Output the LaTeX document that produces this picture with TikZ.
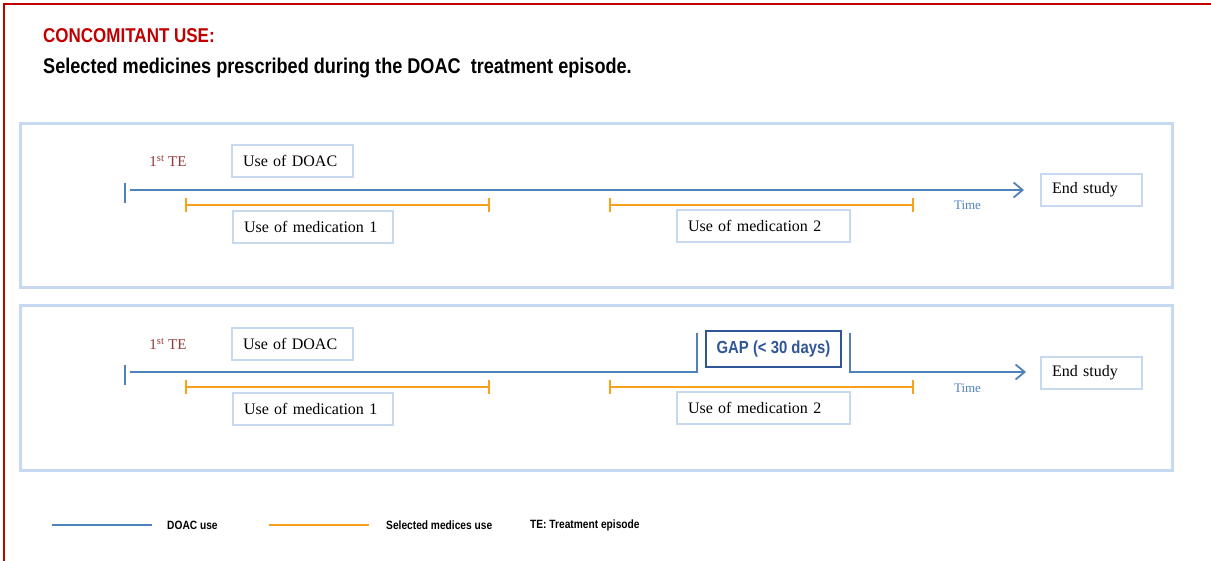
\documentclass[tikz,border=0pt]{standalone}
\usepackage{fontspec}
\setmainfont{Liberation Serif}
\newfontfamily\narrowfont[FakeStretch=0.85]{Liberation Sans}
\usetikzlibrary{arrows.meta}
\definecolor{doacblue}{HTML}{4F81BD}
\definecolor{medorange}{HTML}{F9A11B}
\definecolor{panelblue}{HTML}{C6D9F1}
\definecolor{titlered}{HTML}{C00000}
\definecolor{tered}{HTML}{953735}
\definecolor{gapblue}{HTML}{2F5597}
\begin{document}
\begin{tikzpicture}[x=1pt, y=-1pt,
    panel/.style={draw=panelblue, line width=3pt, minimum width=1152pt,
        minimum height=164pt, inner sep=0pt},
    label/.style={draw=panelblue, line width=1.6pt, fill=white,
        text width=#1, align=left, inner xsep=11pt, inner ysep=0pt,
        minimum height=32pt, font=\fontsize{16}{19}\selectfont},
    gapbox/.style={draw=gapblue, line width=1.6pt, minimum width=135pt,
        minimum height=36pt, inner sep=0pt, text=gapblue,
        font=\narrowfont\bfseries\fontsize{17.5}{20}\selectfont},
    doac/.style={draw=doacblue, line width=1.8pt},
    timearrow/.style={doac, -{Straight Barb[length=9pt, width=15pt, line width=1.8pt]}},
    medline/.style={draw=medorange, line width=1.6pt,
        {Bar[width=14pt, line width=1.6pt]}-{Bar[width=14pt, line width=1.6pt]}},
    tenote/.style={text=tered, font=\fontsize{15}{18}\selectfont},
    timenote/.style={text=doacblue, font=\fontsize{13}{16}\selectfont},
    legendtext/.style={anchor=west, inner sep=0pt,
        font=\narrowfont\bfseries\fontsize{12}{14}\selectfont}
]
    \useasboundingbox (0,0) rectangle (1211,561);
    % frame
    \draw[titlered, line width=1.5pt] (1211,4) -- (4,4) -- (4,561);
    \node[anchor=base west, inner sep=0pt, text=titlered,
        font=\narrowfont\bfseries\fontsize{20}{24}\selectfont] (title) at (43,43) {CONCOMITANT USE:};
    \node[anchor=base west, inner sep=0pt,
        font=\narrowfont\bfseries\fontsize{21.3}{25}\selectfont] (subtitle) at (43,74)
        {Selected medicines prescribed during the DOAC\ \ treatment episode.};

    % upper panel
    \node[panel] (panelA) at (596,206) {};
    \coordinate (tickA1) at (125,183);
    \coordinate (tickA2) at (125,203);
    \coordinate (startA) at (130,190);
    \coordinate (endA) at (1024,190);
    \draw[doac] (tickA1) -- (tickA2);
    \draw[timearrow] (startA) -- (endA);
    \coordinate (medA1s) at (185,205);
    \coordinate (medA1e) at (490,205);
    \coordinate (medA2s) at (609,205);
    \coordinate (medA2e) at (914,205);
    \draw[medline] (medA1s) -- (medA1e);
    \draw[medline] (medA2s) -- (medA2e);
    \node[tenote] (teA) at (168,161) {1\textsuperscript{st} TE};
    \node[label=99pt] (doacA) at (292.5,161) {Use of DOAC};
    \node[label=138pt] (medA1) at (313,227) {Use of medication 1};
    \node[label=151pt] (medA2) at (763.5,226) {Use of medication 2};
    \node[timenote] (timeA) at (967.5,205) {Time};
    \node[label=79pt] (endstudyA) at (1091.5,190) {End study};

    % lower panel
    \node[panel] (panelB) at (596,388) {};
    \coordinate (tickB1) at (125,365);
    \coordinate (tickB2) at (125,385);
    \coordinate (startB) at (130,372);
    \coordinate (gapL) at (697,333);
    \coordinate (gapR) at (850,333);
    \coordinate (endB) at (1026,372);
    \draw[doac] (tickB1) -- (tickB2);
    \draw[doac] (startB) -| (gapL);
    \draw[timearrow] (gapR) |- (endB);
    \coordinate (medB1s) at (185,387);
    \coordinate (medB1e) at (490,387);
    \coordinate (medB2s) at (609,387);
    \coordinate (medB2e) at (914,387);
    \draw[medline] (medB1s) -- (medB1e);
    \draw[medline] (medB2s) -- (medB2e);
    \node[tenote] (teB) at (168,344) {1\textsuperscript{st} TE};
    \node[label=99pt] (doacB) at (292.5,344) {Use of DOAC};
    \node[gapbox] (gap) at (773.5,349) {GAP (< 30 days)};
    \node[label=138pt] (medB1) at (313,409) {Use of medication 1};
    \node[label=151pt] (medB2) at (763.5,408) {Use of medication 2};
    \node[timenote] (timeB) at (967.5,388) {Time};
    \node[label=79pt] (endstudyB) at (1091.5,373) {End study};

    % legend
    \coordinate (legDs) at (52,525);
    \coordinate (legDe) at (152,525);
    \coordinate (legMs) at (269,525);
    \coordinate (legMe) at (369,525);
    \draw[doac] (legDs) -- (legDe);
    \draw[draw=medorange, line width=1.8pt] (legMs) -- (legMe);
    \node[legendtext] (legD) at (167,525) {DOAC use};
    \node[legendtext] (legM) at (386,525) {Selected medices use};
    \node[legendtext] (legT) at (530,525) {TE: Treatment episode};
\end{tikzpicture}
\end{document}
